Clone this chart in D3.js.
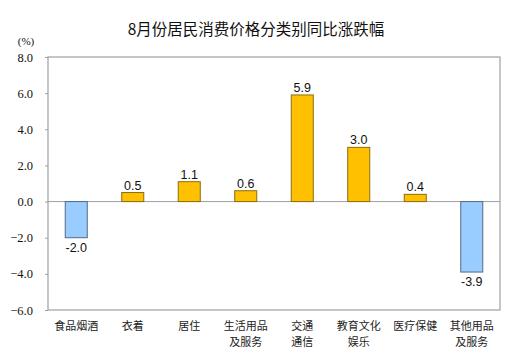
<!DOCTYPE html>
<html><head><meta charset="utf-8">
<script src="https://cdn.jsdelivr.net/npm/d3@7"></script>
<style>body{margin:0;background:#fff}</style></head>
<body><svg id="c" width="512" height="364"></svg>
<script>
const categories = [["食品烟酒"],["衣着"],["居住"],["生活用品","及服务"],["交通","通信"],["教育文化","娱乐"],["医疗保健"],["其他用品","及服务"]];
const values = [-2.0, 0.5, 1.1, 0.6, 5.9, 3.0, 0.4, -3.9];
const yTicks = [8, 6, 4, 2, 0, -2, -4, -6];
const title = "8月份居民消费价格分类别同比涨跌幅";
const unit = "(%)";

const svg = d3.select("#c");
const L = 48, R = 500, T = 57, B = 310;
const x = d3.scaleBand().domain(d3.range(categories.length)).range([L, R]).paddingInner(0.61).paddingOuter(0.305);
const y = d3.scaleLinear().domain([-6, 8]).range([B, T]);

svg.append("text").attr("x", 256).attr("y", 35).attr("text-anchor", "middle")
  .style("font-family", "'Noto Sans CJK SC', sans-serif").style("font-size", "15.5px").attr("fill", "#111").text(title);
svg.append("text").attr("x", 26).attr("y", 45).attr("text-anchor", "middle")
  .style("font-family", "'Liberation Serif', serif").style("font-size", "11px").attr("fill", "#111").text(unit);

svg.append("rect").attr("x", L).attr("y", T).attr("width", R - L).attr("height", B - T)
  .attr("fill", "none").attr("stroke", "#a0a0a0").attr("stroke-width", 1.2);

const yAxis = svg.append("g").attr("transform", `translate(${L},0)`)
  .call(d3.axisLeft(y).tickValues(yTicks).tickFormat(d3.format(".1f")).tickSize(3).tickPadding(12));
yAxis.select(".domain").remove();
yAxis.selectAll("line").attr("stroke", "#a0a0a0");
yAxis.selectAll("text").style("font-family", "'Liberation Serif', serif").style("font-size", "12.5px").attr("fill", "#111");

svg.append("line").attr("x1", L).attr("x2", R).attr("y1", y(0)).attr("y2", y(0)).attr("stroke", "#a0a0a0").attr("stroke-width", 1);

svg.selectAll("rect.bar").data(values).enter().append("rect").attr("class", "bar")
  .attr("x", (d, i) => x(i)).attr("width", x.bandwidth())
  .attr("y", d => y(Math.max(0, d))).attr("height", d => Math.abs(y(d) - y(0)))
  .attr("fill", d => d >= 0 ? "#FFC000" : "#99CCFF")
  .attr("stroke", d => d >= 0 ? "#8a6d10" : "#556b88").attr("stroke-width", 1);

svg.selectAll("text.val").data(values).enter().append("text").attr("class", "val")
  .attr("x", (d, i) => x(i) + x.bandwidth() / 2)
  .attr("y", d => d >= 0 ? y(d) - 3 : y(d) + 14)
  .attr("text-anchor", "middle").style("font-family", "'Liberation Sans', Arial, sans-serif").style("font-size", "12.5px").attr("fill", "#111")
  .text(d => d.toFixed(1));

const cat = svg.selectAll("g.cat").data(categories).enter().append("g").attr("class", "cat");
cat.each(function(lines, i) {
  const g = d3.select(this);
  lines.forEach((s, j) => {
    g.append("text").attr("x", x(i) + x.bandwidth() / 2)
      .attr("y", 330 + j * 16).attr("text-anchor", "middle")
      .style("font-family", "'Noto Sans CJK SC', sans-serif").style("font-size", "11px").attr("fill", "#222").text(s);
  });
});
</script></body></html>
